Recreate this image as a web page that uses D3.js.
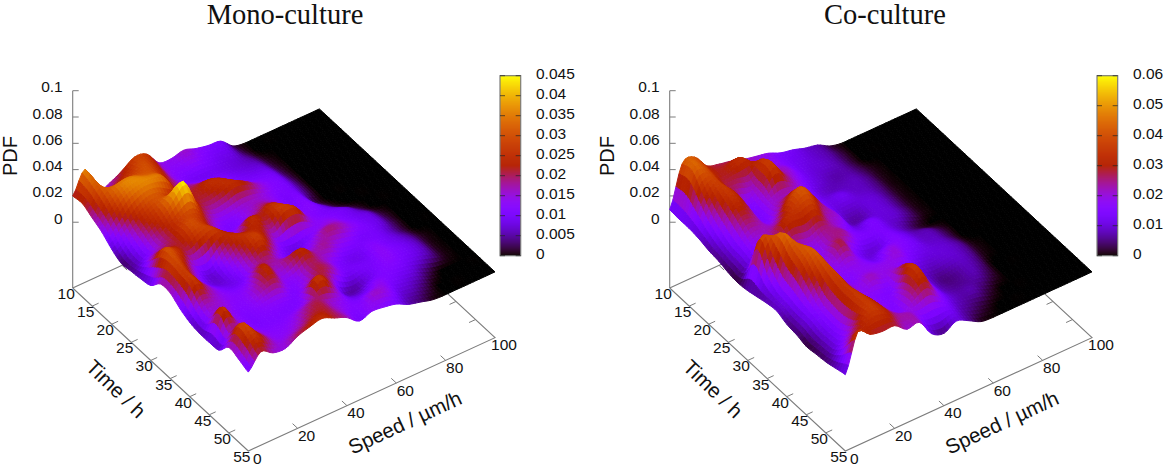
<!DOCTYPE html>
<html><head><meta charset="utf-8">
<script src="https://cdn.jsdelivr.net/npm/d3@7/dist/d3.min.js"></script>
<style>html,body{margin:0;background:#fff}svg{display:block}text{font-family:"Liberation Sans",Arial,sans-serif;fill:#111}</style>
</head><body><svg id="c" width="1170" height="471"></svg>
<script>
const times=[10,12.5,15,17.5,20,22.5,25,27.5,30,32.5,35,37.5,40,42.5,45,47.5,50,52.5,55];
const speeds=[0,5,10,15,20,25,30,35,40,45,50,55,60,65,70,75,80,85,90,95,100];
const timeTicks=[10,15,20,25,30,35,40,45,50,55];
const speedTicks=[0,20,40,60,80,100];
const pdfTicks=[0,0.02,0.04,0.06,0.08,0.1];
const monoBarTicks=[0,0.005,0.01,0.015,0.02,0.025,0.03,0.035,0.04,0.045];
const coBarTicks=[0,0.01,0.02,0.03,0.04,0.05,0.06];
// PDF x 1000, one row per time, one column per speed
const monoPdf=[
[20,36,15,17,22,28,26,15,14,16,13,11,10,2,0,0,0,0,0,0,0],
[21,33,20,24,27,30,24,14,12,13,11,9,8,3,0,0,0,0,0,0,0],
[17,30,34,35,32,30,22,14,10,9,9,8,7,5,1,0,0,0,0,0,0],
[13,24,33,36,36,33,20,18,16,14,11,9,8,7,2,0,0,0,0,0,0],
[7,15,24,30,30,24,22,22,25,22,14,11,10,9,3,0,0,0,0,0,0],
[3,10,20,26,36,44,24,20,22,25,22,16,12,10,4,0,0,0,0,0,0],
[4,9,16,22,28,30,20,14,14,16,16,14,11,10,4,0,0,0,0,0,0],
[5,18,20,22,30,26,17,11,12,16,19,15,10,11,3,0,0,0,0,0,0],
[7,29,26,20,25,28,22,16,24,22,26,20,12,12,7,2,0,0,0,0,0],
[15,30,22,12,9,18,25,24,23,18,26,25,14,11,10,8,3,0,0,0,0],
[15,28,18,9,7,12,20,28,20,11,9,11,13,14,11,9,7,2,0,0,0],
[10,27,19,12,9,10,17,20,14,10,11,15,19,17,13,10,8,3,0,0,0],
[6.5,18,16,13,12,15,24,16,20,24,17,18,14,12,10,10,7,3,0,0,0],
[5,15,15,12,13,18,21,13,14,20,17,12,9,9,12,10,8,5,1,0,0],
[5,27,15,11,12,13,13,11,16,21,17,10,10,10,13,11,9,6,1,0,0],
[6,18,15,11,11,11,11,14,27,19,7,5,8,11,12,10,8,5,1,0,0],
[15,29,19,13,12,13,17,20,17,14,9,9,13,11,9,7,3,0,0,0,0],
[13,27,21,14,14,17,21,21,16,12,12,16,14,8,6,3,0,0,0,0,0],
[10,21,16,15,20,23,25,21,17,10,13,12,10,5.5,3,0.5,0,0,0,0,0]];
const coPdf=[
[9.5,40,41,30,27,25,22,20,18,14,12,9,7,2,0,0,0,0,0,0,0],
[9,42,40,30,30,34,26,20,17,13,11,9,7,3,0,0,0,0,0,0,0],
[9,32,38,28,26,24,36,24,20,13,10,9,7,3,0,0,0,0,0,0,0],
[8,22,36,30,16,22,36,26,18,12,9,7,7,4,1,0,0,0,0,0,0],
[6,16,32,28,14,20,22,22,16,10,8,8,8,5,1,0,0,0,0,0,0],
[5,12,26,24,16,24,32,28,16,11,12,9,8,5,1,0,0,0,0,0,0],
[3,11,20,22,24,36,42,30,18,10,9,10,9,5,1,0,0,0,0,0,0],
[2,12,18,25,33,34,36,24,20,8,7,10,9,5,1,0,0,0,0,0,0],
[3,38,34,24,24,22,26,22,16,11,14,10,9,5,1,0,0,0,0,0,0],
[5,24,45,30,20,18,24,24,16,14,14,10,6,2,0,0,0,0,0,0,0],
[7,16,40,38,22,20,28,16,10,10,15,12,8,7,3,0,0,0,0,0,0],
[8,14,36,42,22,18,20,16,12,18,16,13,9,8,4,0,0,0,0,0,0],
[5,12,28,40,24,16,18,18,18,20,14,11,10,9,6,1,0,0,0,0,0],
[4,12,20,38,26,18,22,19,20,14,10,8,9,9,6,1,0,0,0,0,0],
[2,10,18,36,26,18,16,16,30,18,9,5,6,8,5,0,0,0,0,0,0],
[3,10,18,36,30,20,15,22,36,20,9,6,6,7,3,0,0,0,0,0,0],
[4,12,22,36,32,22,16,24,30,18,10,7,7,3,0,0,0,0,0,0,0],
[6,22,30,36,32,24,22,16,16,14,8,5,2,0,0,0,0,0,0,0,0],
[8,36,30,28,28,21,22,9,5,10,6,1,0,0,0,0,0,0,0,0,0]];

const panels=[
 {title:"Mono-culture",pdf:monoPdf,ticks:monoBarTicks,max:0.045,dx:0,titleX:285},
 {title:"Co-culture",pdf:coPdf,ticks:coBarTicks,max:0.06,dx:597,titleX:288}];

// gnuplot's default pm3d palette (rgbformulae 7,5,15)
function palette(x){x=Math.max(0,Math.min(1,x));
 return d3.rgb(255*Math.sqrt(x),255*x*x*x,255*Math.max(0,Math.sin(2*Math.PI*x)))+"";}

const svg=d3.select("#c");
const AXIS="#7c7c7c";
const fmt=d3.format("~g");

panels.forEach(p=>{
 const g=svg.append("g").attr("transform",`translate(${p.dx},0)`);
 // affine 3-D projection, built from one linear scale per data axis
 const tX=d3.scaleLinear().domain([10,55]).range([0,175.6]);
 const tY=d3.scaleLinear().domain([10,55]).range([0,163]);
 const sX=d3.scaleLinear().domain([0,100]).range([0,246.7]);
 const sY=d3.scaleLinear().domain([0,100]).range([0,-113.3]);
 const zY=d3.scaleLinear().domain([-0.05,0.1]).range([288,90.7]);
 const X=(t,s)=>72.7+tX(t)+sX(s);
 const Y=(t,s,z)=>zY(z)+tY(t)+sY(s);
 const color=d3.scaleLinear().domain([0,p.max]).range([0,1]).clamp(true);

 // box floor and ticks
 const floor=[[10,0],[55,0],[55,100],[10,100],[10,0]];
 const line=d3.line().x(d=>X(d[0],d[1])).y(d=>Y(d[0],d[1],-0.05));
 g.append("path").attr("d",line(floor)).attr("fill","none").attr("stroke",AXIS).attr("stroke-width",1.1);
 g.append("line").attr("x1",X(10,0)).attr("x2",X(10,0)).attr("y1",zY(0.1)).attr("y2",zY(-0.05)).attr("stroke",AXIS).attr("stroke-width",1.1);
 const tick=(a,b)=>g.append("path").attr("d",line([a,b])).attr("fill","none").attr("stroke",AXIS).attr("stroke-width",1);
 timeTicks.slice(1,-1).forEach(t=>{tick([t,0],[t,2.6]);tick([t,100],[t,97.4]);});
 speedTicks.slice(1,-1).forEach(s=>{tick([55,s],[53.7,s]);tick([10,s],[11.3,s]);});
 pdfTicks.forEach(z=>{
  g.append("line").attr("x1",X(10,0)).attr("x2",X(10,0)+6).attr("y1",zY(z)).attr("y2",zY(z)).attr("stroke",AXIS).attr("stroke-width",1);
  g.append("text").attr("x",X(10,0)-10).attr("y",zY(z)+1.5).attr("text-anchor","end").attr("font-size",15.5).text(z);
 });
 timeTicks.forEach(t=>g.append("text").attr("x",X(t,0)-6.5).attr("y",Y(t,0,-0.05)+11).attr("text-anchor","middle").attr("font-size",15.5).text(t));
 speedTicks.forEach(s=>g.append("text").attr("x",X(55,s)+9).attr("y",Y(55,s,-0.05)+12.5).attr("text-anchor","middle").attr("font-size",15.5).text(s));

 // surface: each data cell drawn as a smooth patch, far corner first
 const N=4, nT=times.length, nS=speeds.length;
 const at=(i,j)=>p.pdf[Math.max(0,Math.min(nT-1,i))][Math.max(0,Math.min(nS-1,j))]*0.001;
 const cr=(a,b,c,d,f)=>b+0.5*f*(c-a+f*(2*a-5*b+4*c-d+f*(3*(b-c)+d-a)));
 const surf=(ti,si)=>{
  const i=Math.min(Math.floor(ti),nT-2),j=Math.min(Math.floor(si),nS-2),fi=ti-i,fj=si-j;
  const col=k=>cr(at(k,j-1),at(k,j),at(k,j+1),at(k,j+2),fj);
  return Math.max(0,cr(col(i-1),col(i),col(i+1),col(i+2),fi));
 };
 const tAt=d3.scaleLinear().domain(d3.range(nT)).range(times);
 const sAt=d3.scaleLinear().domain(d3.range(nS)).range(speeds);
 const cells=[];
 for(let a=0;a<(nT-1)*N;a++)for(let b=(nS-1)*N-1;b>=0;b--){
  const q=[[a,b],[a+1,b],[a+1,b+1],[a,b+1]].map(([u,v])=>{const ti=u/N,si=v/N;
    return {x:X(tAt(ti),sAt(si)),y:0,z:surf(ti,si),t:tAt(ti),s:sAt(si)};});
  q.forEach(c=>c.y=Y(c.t,c.s,c.z));
  cells.push(q);
 }
 g.append("g").selectAll("path").data(cells).join("path")
  .attr("d",q=>"M"+q.map(c=>c.x.toFixed(1)+","+c.y.toFixed(1)).join("L")+"Z")
  .each(function(q){const col=palette(color(d3.mean(q,c=>c.z)));d3.select(this).attr("fill",col).attr("stroke",col).attr("stroke-width",1);});

 // axis labels
 g.append("text").attr("transform","translate(17,156) rotate(-90)").attr("text-anchor","middle").attr("font-size",20).text("PDF");
 g.append("text").attr("transform","translate(111,394) rotate(44)").attr("text-anchor","middle").attr("font-size",20.5).text("Time / h");
 g.append("text").attr("transform","translate(408,429) rotate(-25)").attr("text-anchor","middle").attr("font-size",20.5).text("Speed / µm/h");
 g.append("text").attr("x",p.titleX).attr("y",24).attr("text-anchor","middle").attr("font-size",28.5).style("font-family",'"Liberation Serif",serif').text(p.title);

 // colour bar
 const barX=[500,520.7];
 const bar=d3.scaleLinear().domain([0,p.max]).range([255.7,75.7]);
 const steps=d3.range(0,180).map(k=>k/180*p.max);
 g.append("g").selectAll("rect").data(steps).join("rect")
  .attr("x",barX[0]).attr("width",barX[1]-barX[0])
  .attr("y",d=>bar(d)-1.4).attr("height",1.6).attr("fill",d=>palette(color(d)));
 g.append("rect").attr("x",barX[0]).attr("y",75.7).attr("width",barX[1]-barX[0]).attr("height",180).attr("fill","none").attr("stroke",AXIS).attr("stroke-width",1.2);
 p.ticks.forEach(v=>{
  [[barX[0],barX[0]+5],[barX[1]-5,barX[1]]].forEach(e=>g.append("line").attr("x1",e[0]).attr("x2",e[1]).attr("y1",bar(v)).attr("y2",bar(v)).attr("stroke","#222").attr("stroke-opacity",.7).attr("stroke-width",1));
  g.append("text").attr("x",536).attr("y",bar(v)+3).attr("font-size",15.5).text(fmt(v));
 });
});
</script></body></html>
